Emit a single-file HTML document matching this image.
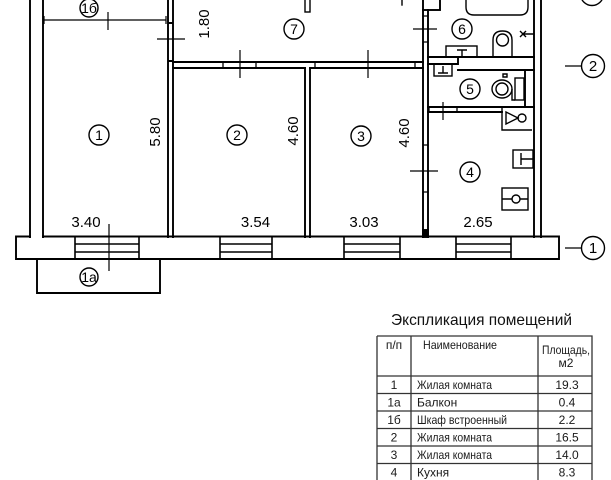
<!DOCTYPE html>
<html><head><meta charset="utf-8"><style>
html,body{margin:0;padding:0;background:#fff;}
svg{display:block;}
text{font-family:"Liberation Sans","DejaVu Sans",sans-serif;}
</style></head><body>
<svg width="611" height="480" viewBox="0 0 611 480" xmlns="http://www.w3.org/2000/svg">
<rect width="611" height="480" fill="#fff"/>
<g stroke="#000" stroke-width="1.9" fill="none" stroke-linecap="square">
<!-- bottom wall -->
<path d="M30 236.5 H16 V259 H559 V236.5 H43"/>
<!-- windows -->
<g stroke-width="1.6">
<path d="M75 237V259M139 237V259M75 244H139M75 252H139"/>
<path d="M220 237V259M272 237V259M220 244H272M220 252H272"/>
<path d="M344 237V259M400 237V259M344 244H400M344 252H400"/>
<path d="M456 237V259M511 237V259M456 244H511M456 252H511"/>
</g>
<!-- balcony -->
<path d="M37 259V293H160V259"/>
<!-- left wall -->
<path d="M30 0V237M43 0V237"/>
<!-- right wall -->
<path d="M534 0V237M541 0V237"/>
<!-- wall 1/2 -->
<path d="M168 0V237M173 0V237M168 23H173M168 61H173"/>
<!-- wall 7 / rooms 2,3 -->
<path d="M173 62H423M173 68H305M310 68H423"/>
<path d="M223 62V68M256 62V68M315 62V68M415 62V68" stroke-width="1.3"/>
<!-- wall 2/3 -->
<path d="M305 68V237M310 68V237"/>
<!-- wall 7/6 and 3/4-5 -->
<path d="M423 10V237M428 10V237"/>
<rect x="423" y="-2" width="17" height="12"/>
<path d="M423 16H428M423 42H428M423 145H428M423 192H428M423 230H428" stroke-width="1.3"/>
<rect x="423" y="230" width="5" height="7" fill="#000"/>
<!-- small items in 7 -->
<rect x="305" y="-2" width="5" height="14" stroke-width="1.4"/>
<path d="M402 0V5" stroke-width="1.4"/>
<!-- bathroom 6 -->
<path d="M428 57H534"/>
<path d="M428 64H458V57M458 70H534M525 70V107"/>
<path d="M428 107H534M428 112H502"/>
<path d="M429 107V112M457 107V112" stroke-width="1.3"/>
</g>
<g stroke="#000" stroke-width="1.4" fill="none">
<!-- bathtub -->
<path d="M466 0V7Q466 15 474 15H520Q528 15 528 7V0"/>
<!-- sink 6 -->
<rect x="446" y="46" width="31" height="11"/>
<path d="M457 50H467M462 50V57"/>
<!-- toilet 6 -->
<path d="M493 57V40Q493 31 502.5 31Q512 31 512 40V57"/>
<circle cx="502.5" cy="40" r="6"/>
<!-- tap -->
<path d="M523 34H534M520 31L526 37M520 37L526 31"/>
<!-- sink 5 -->
<rect x="434" y="64" width="18" height="12"/>
<path d="M443 66V73M438 73H448"/>
<!-- toilet 5 -->
<ellipse cx="502" cy="89" rx="10" ry="9"/>
<circle cx="502" cy="89" r="6"/>
<rect x="515" y="78" width="9" height="22"/>
<path d="M512 89V100H515" />
<path d="M503 74h4v3h-4z"/>
<!-- valve symbol in 4 -->
<path d="M502 107V130H532"/>
<path d="M506 112L518 118L506 124Z"/>
<circle cx="522" cy="118" r="4"/>
<!-- fixtures in 4 -->
<rect x="513" y="150" width="20" height="18"/>
<path d="M521 153V165M521 159H533"/>
<rect x="502" y="188" width="26" height="22"/>
<path d="M502 199H528"/>
<circle cx="516" cy="199" r="4" fill="#fff"/>
</g>
<!-- dimension and door markers -->
<g stroke="#000" stroke-width="1.2" fill="none">
<path d="M44 20H166M44 16V24M166 16V24"/>
<path d="M108 12V30"/>
<path d="M157 39H185"/>
<path d="M240 50V78"/>
<path d="M368 50V78"/>
<path d="M413 29H437"/>
<path d="M410 171H438"/>
<path d="M443 102V120"/>
<path d="M109 224V271"/>
<path d="M565 66H582M565 248H582"/>
</g>
<!-- circles -->
<g stroke="#000" stroke-width="1.4" fill="#fff">
<circle cx="89" cy="8" r="9"/>
<circle cx="99" cy="135" r="10"/>
<circle cx="237" cy="135" r="10"/>
<circle cx="361" cy="136" r="10"/>
<circle cx="470" cy="172" r="10"/>
<circle cx="470" cy="89" r="10"/>
<circle cx="462" cy="29" r="10"/>
<circle cx="294" cy="29" r="10"/>
<circle cx="89" cy="277" r="9"/>
<circle cx="593" cy="66" r="11.5"/>
<circle cx="593" cy="248" r="11.5"/>
<circle cx="592" cy="-6" r="11.5"/>
</g>
<g font-size="14" text-anchor="middle" fill="#000">
<text x="89" y="13">1б</text>
<text x="99" y="140">1</text>
<text x="237" y="140">2</text>
<text x="361" y="141">3</text>
<text x="470" y="177">4</text>
<text x="470" y="94">5</text>
<text x="462" y="34">6</text>
<text x="294" y="34">7</text>
<text x="89" y="282">1а</text>
<text x="593" y="71" font-size="15">2</text>
<text x="593" y="253" font-size="15">1</text>
<text x="592" y="-1" font-size="15">3</text>
</g>
<g font-size="15" text-anchor="middle" fill="#000">
<text x="86" y="227">3.40</text>
<text x="255.5" y="227">3.54</text>
<text x="364" y="227">3.03</text>
<text x="478" y="227">2.65</text>
<text transform="translate(160,132) rotate(-90)">5.80</text>
<text transform="translate(298,131) rotate(-90)">4.60</text>
<text transform="translate(409,133) rotate(-90)">4.60</text>
<text transform="translate(209,24) rotate(-90)">1.80</text>
</g>
<!-- table -->
<text x="391" y="325" font-size="16" fill="#111" textLength="181" lengthAdjust="spacingAndGlyphs">Экспликация помещений</text>
<g stroke="#333" stroke-width="1.3" fill="none">
<path d="M377 336H592V481M377 336V481M411 336V481M538 336V481"/>
<path d="M377 376H592M377 393.5H592M377 411H592M377 428.5H592M377 446H592M377 463.5H592"/>
</g>
<g font-size="12" fill="#1a1a1a">
<text x="394" y="349" text-anchor="middle">п/п</text>
<text x="423" y="349" textLength="74" lengthAdjust="spacingAndGlyphs">Наименование</text>
<text x="566" y="354" text-anchor="middle" textLength="48" lengthAdjust="spacingAndGlyphs">Площадь,</text>
<text x="566" y="367" text-anchor="middle">м2</text>
<g text-anchor="middle">
<text x="394" y="389">1</text>
<text x="394" y="406.5">1а</text>
<text x="394" y="424">1б</text>
<text x="394" y="441.5">2</text>
<text x="394" y="459">3</text>
<text x="394" y="476.5">4</text>
<text x="567" y="389">19.3</text>
<text x="567" y="406.5">0.4</text>
<text x="567" y="424">2.2</text>
<text x="567" y="441.5">16.5</text>
<text x="567" y="459">14.0</text>
<text x="567" y="476.5">8.3</text>
</g>
<text x="417" y="389" textLength="75" lengthAdjust="spacingAndGlyphs">Жилая комната</text>
<text x="417" y="406.5">Балкон</text>
<text x="417" y="424" textLength="90" lengthAdjust="spacingAndGlyphs">Шкаф встроенный</text>
<text x="417" y="441.5" textLength="75" lengthAdjust="spacingAndGlyphs">Жилая комната</text>
<text x="417" y="459" textLength="75" lengthAdjust="spacingAndGlyphs">Жилая комната</text>
<text x="417" y="476.5">Кухня</text>
</g>
</svg>
</body></html>
